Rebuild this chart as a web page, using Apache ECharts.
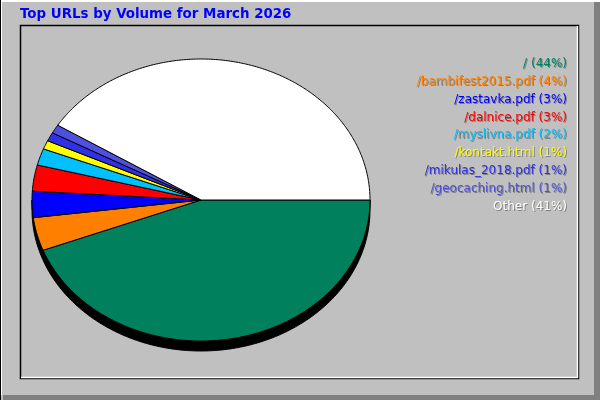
<!DOCTYPE html>
<html><head><meta charset="utf-8">
<script src="https://cdn.jsdelivr.net/npm/echarts@6/dist/echarts.min.js"></script>
<style>html,body{margin:0;padding:0;background:#c0c0c0}#c{width:600px;height:400px}</style>
</head><body><div id="c"></div>
<script>
const titleText = 'Top URLs by Volume for March 2026';
const categories = ['/', '/bambifest2015.pdf', '/zastavka.pdf', '/dalnice.pdf', '/myslivna.pdf', '/kontakt.html', '/mikulas_2018.pdf', '/geocaching.html', 'Other'];
const shares = [44.2, 3.8, 3.0, 3.0, 1.9, 1.0, 1.0, 1.0, 41.1];
const colors = ['#00805c', '#ff8000', '#0000ff', '#ff0000', '#00c0ff', '#ffff00', '#3030e6', '#5050e0', '#ffffff'];

const CX = 201, CY = 200, RX = 169, RY = 141, DEPTH = 10;
const total = shares.reduce((a, b) => a + b, 0);
function pt(t, dy) { return [CX + RX * Math.cos(t), CY + (dy || 0) + RY * Math.sin(t)]; }

function renderItem(params, api) {
  const i = params.dataIndex;
  let start = 0;
  for (let k = 0; k < i; k++) start += shares[k];
  const a0 = start / total * Math.PI * 2;
  const a1 = (start + api.value(0)) / total * Math.PI * 2;
  const steps = Math.max(2, Math.ceil((a1 - a0) / 0.01));
  const pts = [[CX, CY]];
  for (let s = 0; s <= steps; s++) pts.push(pt(a0 + (a1 - a0) * s / steps));
  const children = [];
  if (i === 0) {
    const sh = [];
    const n = 200;
    for (let s = 0; s <= n; s++) sh.push(pt(Math.PI * s / n, DEPTH));
    for (let s = n; s >= 0; s--) sh.push(pt(Math.PI * s / n, 0));
    children.push({ type: 'polygon', shape: { points: sh }, style: { fill: '#000', stroke: '#000', lineWidth: 1 } });
  }
  children.push({ type: 'polygon', shape: { points: pts }, style: { fill: colors[i], stroke: '#000', lineWidth: 1 } });
  return { type: 'group', children };
}

const legendTexts = [];
categories.forEach((c, i) => {
  const txt = c + ' (' + Math.round(shares[i]) + '%)';
  const y = 64 + i * 17.8;
  legendTexts.push({ type: 'text', z: 1, style: { text: txt, x: 568, y: y + 1, fill: '#808080', font: '12px "DejaVu Sans"', textAlign: 'right', textVerticalAlign: 'middle' } });
  legendTexts.push({ type: 'text', z: 2, style: { text: txt, x: 567, y: y, fill: colors[i], font: '12px "DejaVu Sans"', textAlign: 'right', textVerticalAlign: 'middle' } });
});

const chart = echarts.init(document.getElementById('c'), null, { renderer: 'canvas' });
chart.setOption({
  animation: false,
  backgroundColor: '#c0c0c0',
  graphic: [
    { type: 'rect', shape: { x: 0, y: 0, width: 600, height: 2 }, style: { fill: '#ffffff' } },
    { type: 'rect', shape: { x: 0, y: 0, width: 1, height: 400 }, style: { fill: '#000000' } },
    { type: 'rect', shape: { x: 1, y: 2, width: 1, height: 393 }, style: { fill: '#ffffff' } },
    { type: 'rect', shape: { x: 594, y: 2, width: 6, height: 398 }, style: { fill: '#808080' } },
    { type: 'rect', shape: { x: 3, y: 395, width: 597, height: 5 }, style: { fill: '#808080' } },
    { type: 'rect', shape: { x: 20.5, y: 25.5, width: 558, height: 353 }, style: { fill: 'none', stroke: '#000', lineWidth: 1.5 } },
    { type: 'line', shape: { x1: 21, y1: 377.5, x2: 578, y2: 377.5 }, style: { stroke: '#fff', lineWidth: 1.5 } },
    { type: 'line', shape: { x1: 577.5, y1: 26, x2: 577.5, y2: 378 }, style: { stroke: '#fff', lineWidth: 1.5 } },
    { type: 'text', style: { text: titleText, x: 20, y: 14.5, fill: '#0000ff', font: 'bold 13.4px "DejaVu Sans"', textVerticalAlign: 'middle' } }
  ].concat(legendTexts),
  series: [{
    type: 'custom',
    coordinateSystem: 'none',
    renderItem: renderItem,
    data: shares.map(v => [v])
  }]
});
</script></body></html>
